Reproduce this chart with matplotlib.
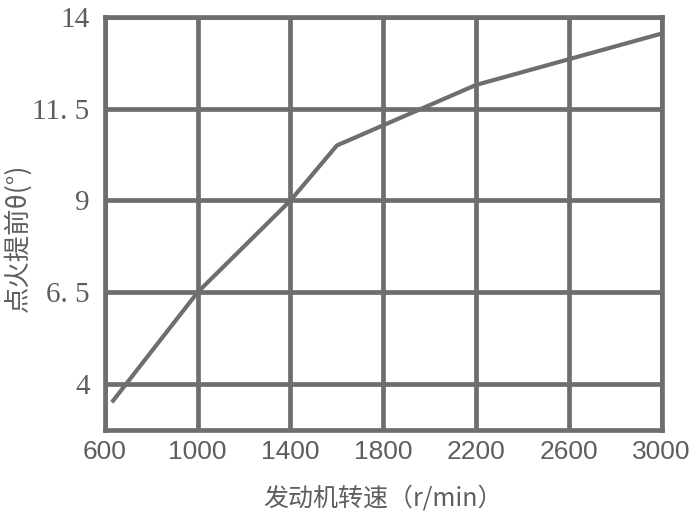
import matplotlib
matplotlib.use('Agg')
import matplotlib.pyplot as plt

# engine speed (r/min) vs ignition advance angle (deg)
speed = [630, 1000, 1400, 1600, 2200, 3000]
advance = [3.5, 6.5, 9.0, 10.5, 12.15, 13.55]

xticks = [600, 1000, 1400, 1800, 2200, 2600, 3000]
yticks = [4, 6.5, 9, 11.5, 14]
ytick_labels = ['4', '6. 5', '9', '11. 5', '14']

gray = '#6e6e6e'
txt = '#5e5e5e'

fig = plt.figure(figsize=(6.9, 5.16), dpi=100)
ax = fig.add_axes([0.152, 0.167, 0.807, 0.800])

ax.plot(speed, advance, color=gray, linewidth=3.0, solid_capstyle='butt', zorder=3)

ax.set_xlim(600, 3000)
ax.set_ylim(2.75, 14)
ax.set_xticks(xticks)
ax.set_yticks(yticks)
ax.set_xticklabels([str(t) for t in xticks], fontsize=19, family='Liberation Sans', color=txt)
ax.set_yticklabels(ytick_labels, fontsize=21, family='Liberation Serif', color=txt)
ax.tick_params(length=0)
ax.tick_params(axis='x', pad=7)
ax.tick_params(axis='y', pad=11)

ax.grid(True, color=gray, linewidth=3.4, zorder=1)
for s in ax.spines.values():
    s.set_color(gray)
    s.set_linewidth(3.4)

ax.set_xlabel('发动机转速（r/min）', fontsize=18, color=txt,
              family=['Noto Sans CJK SC', 'DejaVu Sans'], labelpad=16)
ax.set_ylabel('点火提前θ(°)', fontsize=19, color=txt,
              family=['Noto Sans CJK SC', 'DejaVu Sans'])
ax.yaxis.set_label_coords(-0.131, 0.465)

fig.savefig('out.png', dpi=100)
